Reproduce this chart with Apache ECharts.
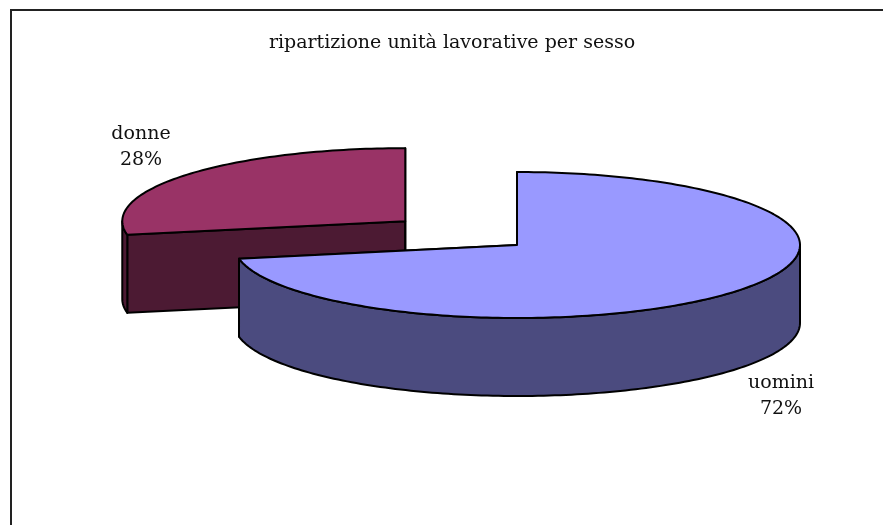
<!DOCTYPE html>
<html>
<head>
<meta charset="utf-8">
<script src="https://cdn.jsdelivr.net/npm/echarts@6/dist/echarts.min.js"></script>
<style>
  html, body { margin: 0; padding: 0; background: #fff; }
  #chart { width: 883px; height: 525px; }
</style>
</head>
<body>
<div id="chart"></div>
<script>
var categories = ['uomini', 'donne'];
var shares = [72, 28];
var topColors = ['#9999ff', '#993366'];
var sideColors = ['#4b4b7f', '#4c1a33'];
var explode = [0, 145];

// pie geometry (pixels)
var CX = 517, CY = 245, RX = 283, RY = 73, DEPTH = 78;
var labelPos = [[781, 396], [141, 147]];
var FONT = '"DejaVu Serif", "Liberation Serif", serif';

var total = shares.reduce(function (a, b) { return a + b; }, 0);

var renderSlice = function (params, api) {
    var i = params.dataIndex;
    var before = 0;
    for (var j = 0; j < i; j++) before += shares[j];
    var a0 = before / total * Math.PI * 2;
    var a1 = (before + api.value(0)) / total * Math.PI * 2;
    var am = (a0 + a1) / 2;
    var d = explode[i];
    var cx = CX + d * Math.sin(am);
    var cy = CY - d * Math.cos(am) * RY / RX;

    var pt = function (a, dz) {
        return [cx + RX * Math.sin(a), cy - RY * Math.cos(a) + dz];
    };
    var arc = function (from, to, dz) {
        var n = Math.max(2, Math.ceil(Math.abs(to - from) / 0.02));
        var pts = [];
        for (var k = 0; k <= n; k++) pts.push(pt(from + (to - from) * k / n, dz));
        return pts;
    };

    var zb = Math.round(100 - Math.cos(am) * 60);
    var edge = { stroke: '#000', lineWidth: 2, lineJoin: 'round' };
    var children = [];

    // radial walls
    [a0, a1].forEach(function (a) {
        children.push({
            type: 'polygon',
            z2: zb,
            shape: { points: [[cx, cy], pt(a, 0), pt(a, DEPTH), [cx, cy + DEPTH]] },
            style: Object.assign({ fill: sideColors[i] }, edge)
        });
    });

    // outer wall, front half only
    var s = Math.max(a0, Math.PI / 2), e = Math.min(a1, Math.PI * 1.5);
    if (e > s) {
        children.push({
            type: 'polygon',
            z2: zb + 1,
            shape: { points: arc(s, e, 0).concat(arc(e, s, DEPTH)) },
            style: Object.assign({ fill: sideColors[i] }, edge)
        });
    }

    // top face
    children.push({
        type: 'polygon',
        z2: zb + 2,
        shape: { points: [[cx, cy]].concat(arc(a0, a1, 0)) },
        style: Object.assign({ fill: topColors[i] }, edge)
    });

    children.push({
        type: 'text',
        z2: 300,
        x: labelPos[i][0],
        y: labelPos[i][1],
        style: {
            text: categories[i] + '\n' + Math.round(api.value(0) / total * 100) + '%',
            fill: '#111',
            fontSize: 19,
            fontFamily: FONT,
            lineHeight: 26,
            align: 'center',
            verticalAlign: 'middle'
        }
    });

    return { type: 'group', children: children };
};

var chart = echarts.init(document.getElementById('chart'));
chart.setOption({
    animation: false,
    title: {
        text: 'ripartizione unità lavorative per sesso',
        left: 447,
        top: 29,
        textAlign: 'center',
        textStyle: { fontFamily: FONT, fontSize: 19, fontWeight: 'normal', color: '#111' }
    },
    graphic: [{
        type: 'rect',
        shape: { x: 11, y: 10, width: 900, height: 600 },
        style: { fill: 'none', stroke: '#222', lineWidth: 2 }
    }],
    series: [{
        type: 'custom',
        coordinateSystem: 'none',
        renderItem: renderSlice,
        data: shares
    }]
});
</script>
</body>
</html>
